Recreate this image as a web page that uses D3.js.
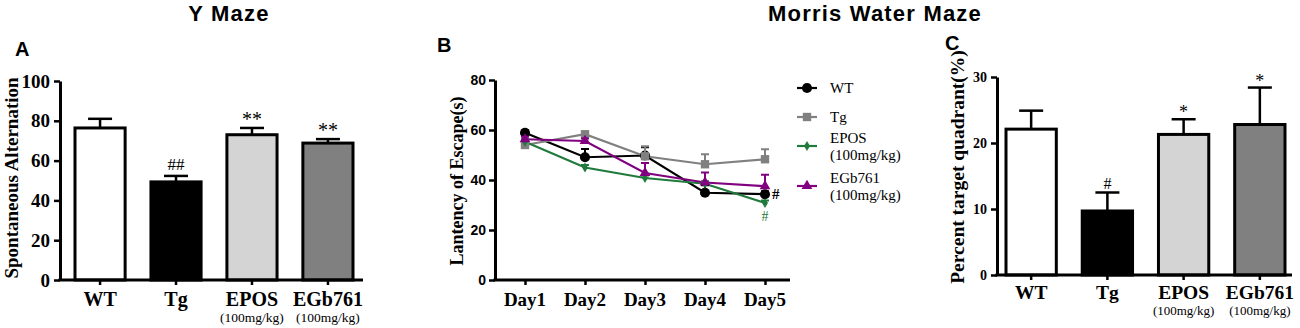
<!DOCTYPE html>
<html><head><meta charset="utf-8">
<script src="https://cdn.jsdelivr.net/npm/d3@7"></script>
<style>body{margin:0;background:#fff}svg{display:block}</style>
</head><body>
<svg id="c" width="1300" height="328"></svg>
<script>
// ---------- DATA ----------
const groups = ["WT", "Tg", "EPOS", "EGb761"];
const groupSub = ["", "", "(100mg/kg)", "(100mg/kg)"];
const groupFill = ["#ffffff", "#000000", "#d4d4d4", "#808080"];

const yMazeMean = [76.4, 49.3, 73.0, 68.8];
const yMazeErr = [4.6, 3.0, 3.4, 2.0];
const yMazeMark = ["", "##", "**", "**"];
const yMazeTicks = [0, 20, 40, 60, 80, 100];

const days = ["Day1", "Day2", "Day3", "Day4", "Day5"];
const mwmWT = [58.9, 49.1, 49.8, 34.9, 34.3];
const mwmWTErr = [1.0, 3.3, 3.3, 3.0, 1.2];
const mwmTg = [54.0, 58.3, 49.5, 46.3, 48.3];
const mwmTgErr = [1.0, 1.0, 4.0, 4.0, 4.0];
const mwmEPOS = [55.3, 45.0, 40.8, 38.5, 30.8];
const mwmEPOSErr = [1.0, 1.0, 1.0, 1.0, 1.0];
const mwmEGb = [56.3, 55.6, 42.8, 39.0, 37.5];
const mwmEGbErr = [1.0, 1.0, 4.0, 4.0, 4.6];
const mwmTicks = [0, 20, 40, 60, 80];

const quadMean = [22.1, 9.7, 21.3, 22.8];
const quadErr = [2.8, 2.8, 2.3, 5.6];
const quadMark = ["", "#", "*", "*"];
const quadTicks = [0, 10, 20, 30];

// ---------- DRAW ----------
const svg = d3.select("#c");
svg.append("rect").attr("width", 1300).attr("height", 328).attr("fill", "#fff");
const SERIF = "'Liberation Serif','Times New Roman',serif";
const SANS = "'Liberation Sans',Arial,sans-serif";

// titles
svg.append("text").attr("x", 229).attr("y", 21).attr("text-anchor", "middle")
  .attr("font-family", SANS).attr("font-weight", "bold").attr("font-size", 22).attr("letter-spacing", 1.2).text("Y Maze");
svg.append("text").attr("x", 875).attr("y", 21).attr("text-anchor", "middle")
  .attr("font-family", SANS).attr("font-weight", "bold").attr("font-size", 22).attr("letter-spacing", 1.2).text("Morris Water Maze");
[["A", 15, 56], ["B", 437, 52], ["C", 945, 50]].forEach(([t, x, y]) =>
  svg.append("text").attr("x", x).attr("y", y).attr("font-family", SANS).attr("font-weight", "bold").attr("font-size", 20).text(t));

function barPanel(opt) {
  const g = svg.append("g");
  const y = d3.scaleLinear().domain(opt.domain).range([opt.y0, opt.y1]);
  const x = d3.scaleBand().domain(groups).range(opt.xr).paddingInner(0.34).paddingOuter(0);
  const bw = x.bandwidth();
  // bars
  groups.forEach((gname, i) => {
    const cx = x(gname) + bw / 2;
    const top = y(opt.mean[i]);
    const et = y(opt.mean[i] + opt.err[i]);
    g.append("line").attr("x1", cx).attr("x2", cx).attr("y1", top).attr("y2", et).attr("stroke", "#000").attr("stroke-width", 2.5);
    g.append("line").attr("x1", cx - 12).attr("x2", cx + 12).attr("y1", et).attr("y2", et).attr("stroke", "#000").attr("stroke-width", 2.5);
    g.append("rect").attr("x", x(gname)).attr("y", top).attr("width", bw).attr("height", y(0) - top)
      .attr("fill", groupFill[i]).attr("stroke", "#000").attr("stroke-width", 3);
    if (opt.mark[i]) {
      const star = opt.mark[i].includes("*");
      g.append("text").attr("x", cx).attr("y", et + (star ? opt.starOff : opt.hashOff)).attr("text-anchor", "middle")
        .attr("font-family", SERIF).attr("font-size", star ? opt.starSize : opt.markSize).text(opt.mark[i]);
    }
  });
  // y axis
  const ya = d3.axisLeft(y).tickValues(opt.ticks).tickSize(6).tickSizeOuter(0);
  const yg = g.append("g").attr("transform", `translate(${opt.ax},0)`).call(ya);
  yg.select(".domain").attr("stroke-width", 3);
  yg.selectAll(".tick line").attr("stroke-width", 2.5);
  yg.selectAll(".tick text").attr("font-family", opt.tickFont).attr("font-weight", "bold").attr("font-size", opt.tickSize).attr("fill", "#000").attr("dx", -1);
  // x axis
  const xa = d3.axisBottom(x).tickSize(5).tickSizeOuter(0).tickFormat("");
  const xg = g.append("g").attr("transform", `translate(0,${y(0)})`).call(xa);
  xg.select(".domain").attr("d", `M${opt.ax - 1.5},0H${opt.xend}`).attr("stroke-width", 3);
  xg.selectAll(".tick line").attr("stroke-width", 2.5);
  groups.forEach((gname, i) => {
    const cx = x(gname) + bw / 2;
    g.append("text").attr("x", cx).attr("y", opt.labY).attr("text-anchor", "middle").attr("font-family", SERIF)
      .attr("font-weight", "bold").attr("font-size", opt.labSize).text(gname);
    if (groupSub[i]) g.append("text").attr("x", cx).attr("y", opt.subY).attr("text-anchor", "middle").attr("font-family", SERIF)
      .attr("font-size", opt.subSize).text(groupSub[i]);
  });
  g.append("text").attr("transform", `translate(${opt.ylx},${opt.yly}) rotate(-90)`).attr("text-anchor", "middle")
    .attr("font-family", SERIF).attr("font-weight", "bold").attr("font-size", opt.ylSize).text(opt.ylabel);
}

barPanel({domain: [0, 100], y0: 280, y1: 81, xr: [75, 353], ax: 60, xend: 363, mean: yMazeMean, err: yMazeErr,
  mark: yMazeMark, ticks: yMazeTicks, tickFont: SERIF, tickSize: 19, labY: 306, subY: 322, labSize: 20, subSize: 13.5,
  ylabel: "Spontaneous Alternation", ylx: 18, yly: 178, ylSize: 19, starOff: -2, hashOff: -6, markSize: 17, starSize: 20});

barPanel({domain: [0, 30], y0: 275, y1: 77, xr: [1006, 1285], ax: 997, xend: 1292, mean: quadMean, err: quadErr,
  mark: quadMark, ticks: quadTicks, tickFont: SERIF, tickSize: 14, labY: 299, subY: 315, labSize: 19.5, subSize: 13,
  ylabel: "Percent target quadrant(%)", ylx: 964, yly: 167, ylSize: 19.5, starOff: -1, hashOff: -4, markSize: 16, starSize: 18});

// ---------- Panel B line chart ----------
(function () {
  const g = svg.append("g");
  const y = d3.scaleLinear().domain([0, 80]).range([280, 80]);
  const x = d3.scalePoint().domain(days).range([525, 765]);
  const series = [
    {name: "WT", v: mwmWT, e: mwmWTErr, c: "#000000", m: "circle"},
    {name: "Tg", v: mwmTg, e: mwmTgErr, c: "#808080", m: "square"},
    {name: "EPOS", v: mwmEPOS, e: mwmEPOSErr, c: "#1f7a3c", m: "diamond"},
    {name: "EGb761", v: mwmEGb, e: mwmEGbErr, c: "#800080", m: "triangle"}
  ];
  const symbols = {circle: [d3.symbolCircle, 80], square: [d3.symbolSquare, 70], diamond: [d3.symbolDiamond, 30], triangle: [d3.symbolTriangle, 50]};
  const line = d3.line().x((d, i) => x(days[i])).y(d => y(d));
  series.forEach(s => {
    g.append("path").attr("d", line(s.v)).attr("fill", "none").attr("stroke", s.c).attr("stroke-width", 2.2);
  });
  series.forEach(s => {
    s.v.forEach((v, i) => {
      const cx = x(days[i]), top = y(v), et = y(v + s.e[i]);
      g.append("line").attr("x1", cx).attr("x2", cx).attr("y1", top).attr("y2", et).attr("stroke", s.c).attr("stroke-width", 2);
      g.append("line").attr("x1", cx - 4).attr("x2", cx + 4).attr("y1", et).attr("y2", et).attr("stroke", s.c).attr("stroke-width", 2);
      g.append("path").attr("transform", `translate(${cx},${top})`).attr("d", d3.symbol().type(symbols[s.m][0]).size(symbols[s.m][1])())
        .attr("fill", s.c);
    });
  });
  // # marks on day 5
  g.append("text").attr("x", x("Day5") + 7).attr("y", y(mwmWT[4]) + 5).attr("font-family", SERIF).attr("font-weight", "bold")
    .attr("font-size", 15).attr("fill", "#000").text("#");
  g.append("text").attr("x", x("Day5")).attr("y", y(mwmEPOS[4]) + 18).attr("text-anchor", "middle").attr("font-family", SERIF)
    .attr("font-size", 14).attr("fill", "#1f7a3c").text("#");
  // axes
  const yg = g.append("g").attr("transform", "translate(495,0)").call(d3.axisLeft(y).tickValues(mwmTicks).tickSize(6).tickSizeOuter(0));
  yg.select(".domain").attr("stroke-width", 3);
  yg.selectAll(".tick line").attr("stroke-width", 2.5);
  yg.selectAll(".tick text").attr("font-family", SANS).attr("font-weight", "bold").attr("font-size", 14).attr("fill", "#000");
  const xg = g.append("g").attr("transform", "translate(0,280)").call(d3.axisBottom(x).tickSize(5).tickSizeOuter(0).tickFormat(""));
  xg.select(".domain").attr("d", "M493.5,0H790").attr("stroke-width", 3);
  xg.selectAll(".tick line").attr("stroke-width", 2.5);
  days.forEach(d => g.append("text").attr("x", x(d)).attr("y", 306).attr("text-anchor", "middle").attr("font-family", SERIF)
    .attr("font-weight", "bold").attr("font-size", 19).text(d));
  g.append("text").attr("transform", "translate(463,181) rotate(-90)").attr("text-anchor", "middle")
    .attr("font-family", SERIF).attr("font-weight", "bold").attr("font-size", 18).text("Lantency of Escape(s)");
  // legend
  const legY = [88, 117, 146, 186];
  const legText = [["WT"], ["Tg"], ["EPOS", "(100mg/kg)"], ["EGb761", "(100mg/kg)"]];
  series.forEach((s, i) => {
    const ly = legY[i];
    g.append("line").attr("x1", 797).attr("x2", 817).attr("y1", ly).attr("y2", ly).attr("stroke", s.c).attr("stroke-width", 2.2);
    g.append("path").attr("transform", `translate(807,${ly})`).attr("d", d3.symbol().type(symbols[s.m][0]).size(symbols[s.m][1])()).attr("fill", s.c);
    const lines = legText[i];
    lines.forEach((t, k) => {
      const ty = lines.length === 1 ? ly + 5 : ly - 3 + k * 17;
      g.append("text").attr("x", 830).attr("y", ty).attr("font-family", SERIF).attr("font-size", 15).text(t);
    });
  });
})();
</script>
</body></html>
